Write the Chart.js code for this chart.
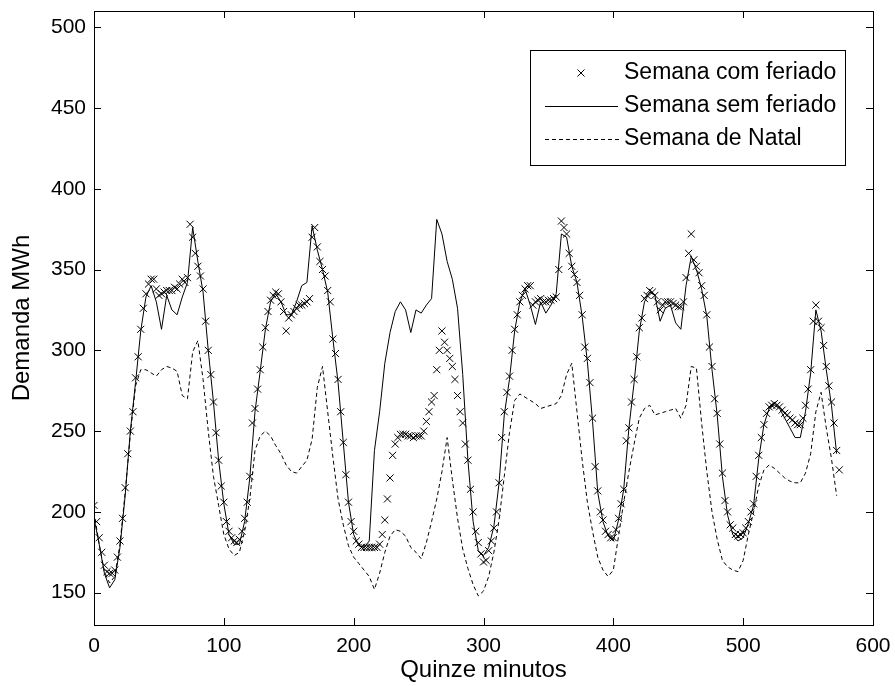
<!DOCTYPE html>
<html>
<head>
<meta charset="utf-8">
<title>Demanda MWh</title>
<script src="https://cdn.jsdelivr.net/npm/chart.js@4.4.1/dist/chart.umd.min.js"></script>
<style>
  html, body { margin: 0; padding: 0; background: #fff; }
  #wrap { width: 895px; height: 686px; }
</style>
</head>
<body>
<div id="wrap"><canvas id="grafico" width="895" height="686"></canvas></div>
<script>
// holiday week: one value every 2 quarter-hours (half hour)
var PASSO_FERIADO = 2;
// the other two weeks: one value per hour
var PASSO = 4;

var comFeriado = [
  // dia 1
  204, 194, 184, 175, 167, 163, 162, 162, 164, 172, 182, 196, 215, 236, 250, 262,
  283, 296, 313, 326, 335, 341, 344, 344, 338, 334, 335, 336, 337, 337, 337, 339,
  338, 341, 344, 342, 345, 378, 370, 360, 352, 346, 338, 318, 300, 285, 268, 249,
  // dia 2
  232, 216, 206, 194, 188, 184, 182, 181, 183, 188, 196, 206, 222, 255, 264, 276,
  288, 302, 314, 324, 331, 334, 336, 335, 330, 324, 312, 320, 322, 324, 326, 328,
  328, 329, 330, 332, 370, 376, 364, 355, 350, 346, 337, 330, 307, 298, 282, 262,
  // dia 3 (feriado)
  243, 223, 206, 194, 188, 182, 180, 178, 178, 178, 178, 178, 178, 178, 180, 186,
  195, 208, 221, 235, 242, 246, 248, 248, 248, 247, 247, 246, 247, 247, 247, 250,
  256, 262, 268, 272, 288, 300, 312, 305, 300, 295, 290, 282, 272, 262, 255, 242,
  // dia 4
  232, 214, 200, 188, 181, 174, 169, 170, 176, 182, 190, 200, 218, 246, 262, 274,
  284, 300, 313, 322, 330, 334, 338, 340, 340, 328, 330, 331, 332, 330, 330, 331,
  331, 332, 333, 350, 380, 376, 372, 360, 352, 347, 342, 334, 322, 302, 295, 280,
  // dia 5
  258, 228, 213, 200, 195, 188, 186, 184, 184, 189, 196, 205, 214, 244, 252, 268,
  282, 296, 314, 320, 332, 334, 337, 336, 334, 330, 325, 328, 330, 330, 330, 329,
  328, 327, 327, 330, 345, 360, 372, 356, 352, 348, 340, 334, 322, 302, 290, 270,
  // dia 6
  261, 242, 224, 207, 200, 192, 190, 186, 185, 186, 187, 190, 194, 200, 205, 222,
  235, 246, 254, 261, 265, 266, 267, 266, 265, 263, 261, 260, 258, 257, 255, 254,
  254, 258, 266, 276, 288, 318, 328, 318, 314, 303, 290, 278, 268, 255, 238, 226
];

var semFeriado = [
  196, 180, 162, 153, 158, 178, 210, 250, 280, 312, 333, 340, 330, 313, 334, 325,
  322, 333, 342, 376, 355, 336, 300, 268, 232, 205, 186, 180, 180, 194, 221, 262,
  287, 313, 330, 335, 330, 322, 322, 330, 340, 342, 377, 362, 350, 336, 307, 280,
  243, 206, 186, 179, 178, 182, 238, 262, 292, 311, 324, 330, 325, 311, 325, 323,
  328, 332, 381, 372, 355, 344, 326, 285, 232, 194, 176, 173, 178, 191, 218, 260,
  282, 312, 330, 338, 328, 316, 330, 323, 328, 335, 372, 370, 352, 342, 321, 293,
  256, 212, 194, 185, 182, 195, 214, 252, 280, 312, 330, 336, 334, 318, 326, 328,
  317, 313, 340, 358, 350, 338, 321, 288, 260, 222, 198, 186, 182, 184, 193, 204,
  233, 254, 264, 266, 264, 258, 252, 246, 246, 262, 286, 325, 312, 288, 266, 236
];

var natal = [
  200, 180, 163, 156, 160, 180, 212, 248, 278, 288, 288, 286, 284, 288, 290, 289,
  287, 272, 270, 299, 306, 282, 250, 222, 204, 186, 177, 173, 175, 188, 208, 238,
  247, 250, 247, 241, 236, 229, 225, 224, 228, 232, 245, 277, 290, 262, 234, 208,
  192, 179, 172, 168, 164, 160, 152, 162, 175, 185, 189, 188, 185, 178, 175, 171,
  181, 194, 208, 225, 246, 220, 196, 177, 165, 155, 148, 151, 160, 175, 195, 222,
  249, 269, 273, 271, 269, 267, 264, 265, 266, 267, 272, 285, 292, 262, 232, 206,
  188, 172, 164, 160, 164, 185, 206, 225, 242, 258, 264, 266, 260, 261, 262, 263,
  264, 258, 266, 290, 289, 255, 225, 200, 183, 170, 166, 164, 163, 170, 186, 200,
  216, 226, 229, 227, 224, 221, 219, 218, 218, 224, 236, 262, 274, 252, 233, 210
];

var xTicks = [0, 100, 200, 300, 400, 500, 600];
var yTicks = [150, 200, 250, 300, 350, 400, 450, 500];

var nomes = ['Semana com feriado', 'Semana sem feriado', 'Semana de Natal'];

function pontos(serie, passo) {
  return serie.map(function(v, i) { return { x: i * passo, y: v }; });
}

var fonte = '"Liberation Sans", Arial, sans-serif';
var TICK = 7;

// box round the axes plus the little inward ticks on all four sides
var caixa = {
  id: 'caixa',
  afterDatasetsDraw: function(chart) {
    var ctx = chart.ctx, a = chart.chartArea;
    var sx = chart.scales.x, sy = chart.scales.y;
    ctx.save();
    ctx.strokeStyle = '#000';
    ctx.lineWidth = 1;
    ctx.beginPath();
    xTicks.forEach(function(v) {
      var px = Math.round(sx.getPixelForValue(v)) + 0.5;
      ctx.moveTo(px, a.bottom); ctx.lineTo(px, a.bottom - TICK);
      ctx.moveTo(px, a.top); ctx.lineTo(px, a.top + TICK);
    });
    yTicks.forEach(function(v) {
      var py = Math.round(sy.getPixelForValue(v)) + 0.5;
      ctx.moveTo(a.left, py); ctx.lineTo(a.left + TICK, py);
      ctx.moveTo(a.right, py); ctx.lineTo(a.right - TICK, py);
    });
    ctx.stroke();
    ctx.strokeRect(Math.round(a.left) + 0.5, Math.round(a.top) + 0.5,
                   Math.round(a.right - a.left), Math.round(a.bottom - a.top));
    ctx.restore();
  }
};

// legend drawn inside the axes, top right
var legenda = {
  id: 'legenda',
  afterDraw: function(chart) {
    var ctx = chart.ctx, a = chart.chartArea;
    var x0 = a.right - 343, y0 = a.top + 39, w = 315, h = 115;
    ctx.save();
    ctx.fillStyle = '#fff';
    ctx.fillRect(x0, y0, w, h);
    ctx.strokeStyle = '#000';
    ctx.lineWidth = 1;
    ctx.strokeRect(x0 + 0.5, y0 + 0.5, w, h);

    var linhas = [y0 + 23, y0 + 56, y0 + 89];
    // marker sample
    var cx = x0 + 51, cy = linhas[0];
    ctx.beginPath();
    ctx.moveTo(cx - 3.5, cy - 3.5); ctx.lineTo(cx + 3.5, cy + 3.5);
    ctx.moveTo(cx + 3.5, cy - 3.5); ctx.lineTo(cx - 3.5, cy + 3.5);
    ctx.stroke();
    // solid sample
    ctx.beginPath();
    ctx.moveTo(x0 + 15, linhas[1] + 0.5); ctx.lineTo(x0 + 88, linhas[1] + 0.5);
    ctx.stroke();
    // dashed sample
    ctx.setLineDash([4, 3]);
    ctx.beginPath();
    ctx.moveTo(x0 + 15, linhas[2] + 0.5); ctx.lineTo(x0 + 92, linhas[2] + 0.5);
    ctx.stroke();
    ctx.setLineDash([]);

    ctx.fillStyle = '#000';
    ctx.font = '23px ' + fonte;
    ctx.textBaseline = 'middle';
    ctx.textAlign = 'left';
    nomes.forEach(function(n, i) { ctx.fillText(n, x0 + 94, linhas[i]); });
    ctx.restore();
  }
};

new Chart(document.getElementById('grafico'), {
  type: 'line',
  data: {
    datasets: [
      {
        label: nomes[0],
        data: pontos(comFeriado, PASSO_FERIADO),
        showLine: false,
        pointStyle: 'crossRot',
        pointRadius: 5,
        pointBorderWidth: 1,
        pointBorderColor: '#000',
        borderColor: '#000',
        order: 3
      },
      {
        label: nomes[1],
        data: pontos(semFeriado, PASSO),
        borderColor: '#000',
        borderWidth: 1,
        pointRadius: 0,
        tension: 0,
        order: 2
      },
      {
        label: nomes[2],
        data: pontos(natal, PASSO),
        borderColor: '#000',
        borderWidth: 1,
        borderDash: [4, 3],
        pointRadius: 0,
        tension: 0,
        order: 1
      }
    ]
  },
  options: {
    responsive: false,
    animation: false,
    layout: { padding: { top: 11, right: 22, left: 0, bottom: 0 } },
    plugins: {
      legend: { display: false },
      tooltip: { enabled: false }
    },
    scales: {
      x: {
        type: 'linear',
        min: 0,
        max: 600,
        grid: { display: false, drawTicks: false },
        border: { display: false },
        afterBuildTicks: function(s) { s.ticks = xTicks.map(function(v) { return { value: v }; }); },
        afterFit: function(s) { s.height = 61; s.paddingLeft = 0; s.paddingRight = 0; },
        ticks: {
          color: '#000',
          padding: 9,
          maxRotation: 0,
          font: { family: fonte, size: 21 }
        },
        title: {
          display: true,
          text: 'Quinze minutos',
          color: '#000',
          font: { family: fonte, size: 24 },
          padding: { top: 0, bottom: 1 }
        }
      },
      y: {
        min: 130,
        max: 510,
        grid: { display: false, drawTicks: false },
        border: { display: false },
        afterBuildTicks: function(s) { s.ticks = yTicks.map(function(v) { return { value: v }; }); },
        afterFit: function(s) { s.width = 94; s.paddingTop = 0; s.paddingBottom = 0; },
        ticks: {
          color: '#000',
          padding: 8,
          font: { family: fonte, size: 21 }
        },
        title: {
          display: true,
          text: 'Demanda MWh',
          color: '#000',
          font: { family: fonte, size: 24 },
          padding: { top: 8, bottom: 4 }
        }
      }
    }
  },
  plugins: [caixa, legenda]
});
</script>
</body>
</html>
